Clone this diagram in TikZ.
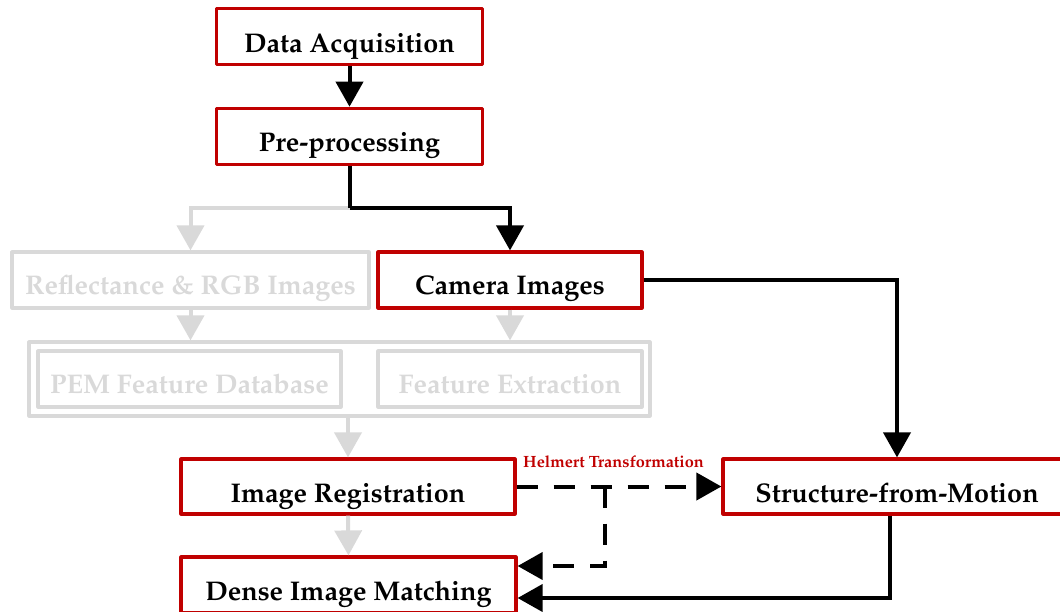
\documentclass[tikz,border=0pt]{standalone}
\usepackage[T1]{fontenc}
\usepackage{mathpazo}
\usetikzlibrary{arrows.meta,calc}

\definecolor{boxred}{RGB}{192,0,0}
\definecolor{fadegray}{RGB}{217,217,217}

\tikzset{
  box/.style={draw=boxred, line width=3.2pt, inner sep=0pt, line join=round},
  greybox/.style={draw=fadegray, line width=3.2pt, inner sep=0pt, line join=round},
  title/.style={anchor=base, inner sep=0pt, font=\bfseries\fontsize{27}{27}\selectfont},
  greytitle/.style={title, text=fadegray},
  flow/.style={draw=black, line width=4pt, -{Triangle[length=25pt,width=27pt]}},
  faded/.style={draw=fadegray, line width=4pt, -{Triangle[length=25pt,width=27pt]}},
  flowdash/.style={flow, dash pattern=on 21pt off 16pt},
  plain/.style={draw=black, line width=4pt}
}

\begin{document}
\begin{tikzpicture}[x=1pt, y=-1pt]
  \useasboundingbox (0,0) rectangle (1060,611);
  \clip (0,0) rectangle (1060,611);

  % boxes
  \node[box, minimum width=265.6pt, minimum height=56pt] (da) at (349.5,36.3) {};
  \node[box, minimum width=265.6pt, minimum height=56pt] (pre) at (349.5,136.3) {};
  \node[greybox, minimum width=357pt, minimum height=56pt] (refl) at (190.5,280) {};
  \node[box, minimum width=264pt, minimum height=56pt] (cam) at (510,280) {};
  \node[greybox, minimum width=621pt, minimum height=74pt] (outer) at (339.5,379) {};
  \node[greybox, minimum width=303pt, minimum height=56pt] (pem) at (189.5,379) {};
  \node[greybox, minimum width=264pt, minimum height=56pt] (fe) at (510,379) {};
  \node[box, minimum width=334pt, minimum height=55pt] (reg) at (348,486.5) {};
  \node[box, minimum width=348pt, minimum height=55pt] (sfm) at (897,486.5) {};
  \node[box, minimum width=335pt, minimum height=56pt] (dim) at (348.5,585) {};

  % box titles
  \node[title] (tda) at ($(da.center)+(0,16)$) {Data Acquisition};
  \node[title] (tpre) at ($(pre.center)+(0,15)$) {Pre-processing};
  \node[greytitle] (trefl) at ($(refl.center)+(0,14.5)$) {Reflectance \& RGB Images};
  \node[title] (tcam) at ($(cam.center)+(0,14.5)$) {Camera Images};
  \node[greytitle] (tpem) at ($(pem.center)+(0,14.5)$) {PEM Feature Database};
  \node[greytitle] (tfe) at ($(fe.center)+(0,14.5)$) {Feature Extraction};
  \node[title] (treg) at ($(reg.center)+(0,15.5)$) {Image Registration};
  \node[title] (tsfm) at ($(sfm.center)+(0,15.5)$) {Structure-from-Motion};
  \node[title] (tdim) at ($(dim.center)+(0,15.5)$) {Dense Image Matching};

  % junction points
  \coordinate (split) at (350,208);
  \coordinate (hj) at (605,486.5);
  \coordinate (hd) at (605,566);
  \coordinate (sb) at (890,598);

  % faded branch
  \draw[faded] (split) -| (refl.north);
  \draw[faded] (refl.south) -- (refl.south |- outer.north);
  \draw[faded] (cam.south) -- (cam.south |- outer.north);
  \draw[faded] (reg.north |- outer.south) -- (reg.north);
  \draw[faded] (reg.south) -- (dim.north);

  % main flow
  \draw[flow] (da.south) -- (pre.north);
  \draw[plain] (pre.south -| split) -- (split);
  \draw[flow] (split) -| (cam.north);
  \draw[flow] (cam.east) -| (sfm.north);
  \draw[flowdash] (reg.east) -- (sfm.west);
  \draw[flowdash] (hj) -- (hd) -- (hd -| dim.east);
  \draw[flow] (sfm.south -| sb) -- (sb) -- (sb -| dim.east);

  % transformation label
  \node[anchor=base, inner sep=0pt, text=boxred, font=\bfseries\fontsize{16.3}{16.3}\selectfont] (helmert) at (613.5,467) {Helmert Transformation};
\end{tikzpicture}
\end{document}
